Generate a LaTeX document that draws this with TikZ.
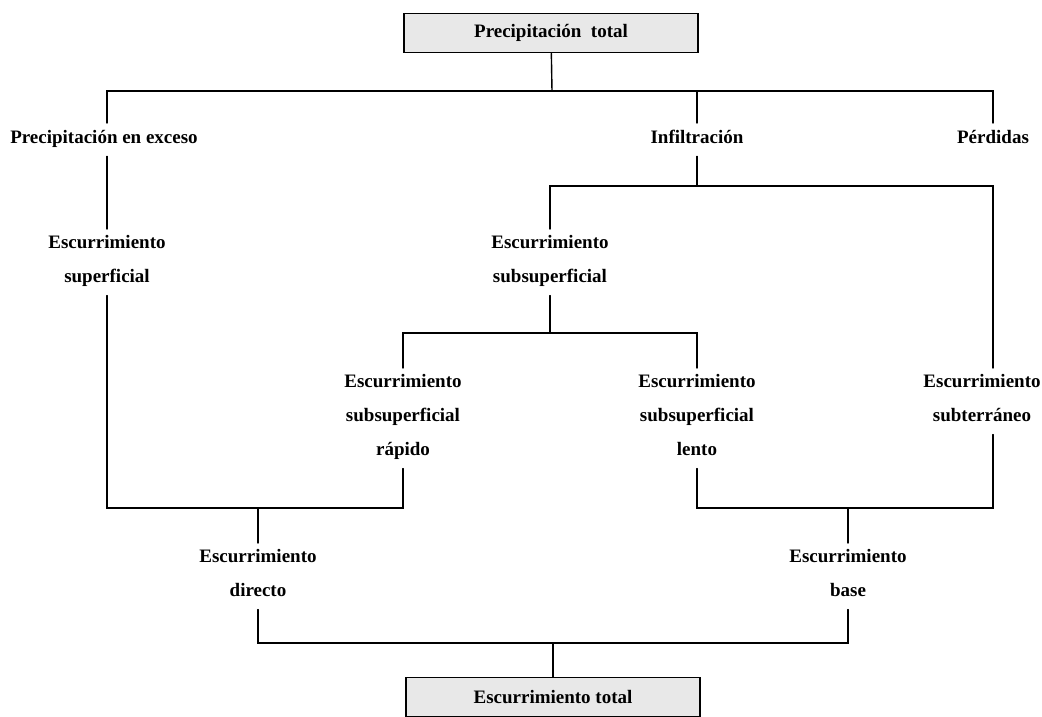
\documentclass[tikz,border=0pt]{standalone}
\usepackage{fontspec}
\setmainfont{Liberation Serif}
\usepackage{xcolor}
\usepackage{tikz}
\usetikzlibrary{positioning,calc}

\newcommand{\topstrut}{\rule{0pt}{14pt}}
\newcommand{\botstrut}{\rule[-7pt]{0pt}{7pt}}

\begin{document}
\begin{tikzpicture}[
    x=1pt, y=-1pt,
    font=\fontsize{19}{34}\selectfont\bfseries,
    totbox/.style={rectangle, minimum width=294pt, minimum height=39pt, draw=black, line width=1.8pt, fill=gray!18},
    lbl/.style={align=center, inner sep=6pt, anchor=north,
      execute at begin node=\topstrut, execute at end node=\botstrut},
    link/.style={line width=1.4pt, line cap=round},
]
\useasboundingbox (0,0) rectangle (1042,716);

\node[totbox] (ptot) at (551,33)  {Precipitación~~total};
\node[totbox] (etot) at (553,697) {Escurrimiento total};

\node[lbl] (pexc) at (104,123) {Precipitación en exceso};
\node[lbl] (infl) at (697,123) {Infiltración};
\node[lbl] (perd) at (993,123) {Pérdidas};

\node[lbl] (esup) at (107,229) {Escurrimiento\\superficial};
\node[lbl] (essu) at (550,229) {Escurrimiento\\subsuperficial};

\node[lbl] (erap) at (403,368) {Escurrimiento\\subsuperficial\\rápido};
\node[lbl] (elen) at (697,368) {Escurrimiento\\subsuperficial\\lento};
\node[lbl] (esub) at (982,368) {Escurrimiento\\subterráneo};

\node[lbl] (edir) at (258,543) {Escurrimiento\\directo};
\node[lbl] (ebas) at (848,543) {Escurrimiento\\base};

% junctions
\coordinate (j1) at (552,91);
\coordinate (j2) at (697,186);
\coordinate (j3) at (550,333);
\coordinate (j4) at (258,508);
\coordinate (j5) at (848,508);
\coordinate (j6) at (553,643);
\coordinate (xsub) at (993,0);

\draw[link] (ptot) -- (j1);
\draw[link] (pexc.north -| esup) -- (esup |- j1) -- (xsub |- j1) -- (perd.north -| xsub);
\draw[link] (infl) -- (infl |- j1);
\draw[link] (pexc.south -| esup) -- (esup.north);

\draw[link] (infl) -- (j2);
\draw[link] (essu.north) -- (essu |- j2) -- (xsub |- j2) -- (esub.north -| xsub);

\draw[link] (essu) -- (j3);
\draw[link] (erap.north) -- (erap |- j3) -- (elen |- j3) -- (elen.north);

\draw[link] (esup.south) -- (esup |- j4) -- (erap |- j4) -- (erap.south);
\draw[link] (edir) -- (j4);
\draw[link] (elen.south) -- (elen |- j5) -- (xsub |- j5) -- (esub.south -| xsub);
\draw[link] (ebas) -- (j5);

\draw[link] (edir.south) -- (edir |- j6) -- (ebas |- j6) -- (ebas.south);
\draw[link] (etot) -- (j6);
\end{tikzpicture}
\end{document}
